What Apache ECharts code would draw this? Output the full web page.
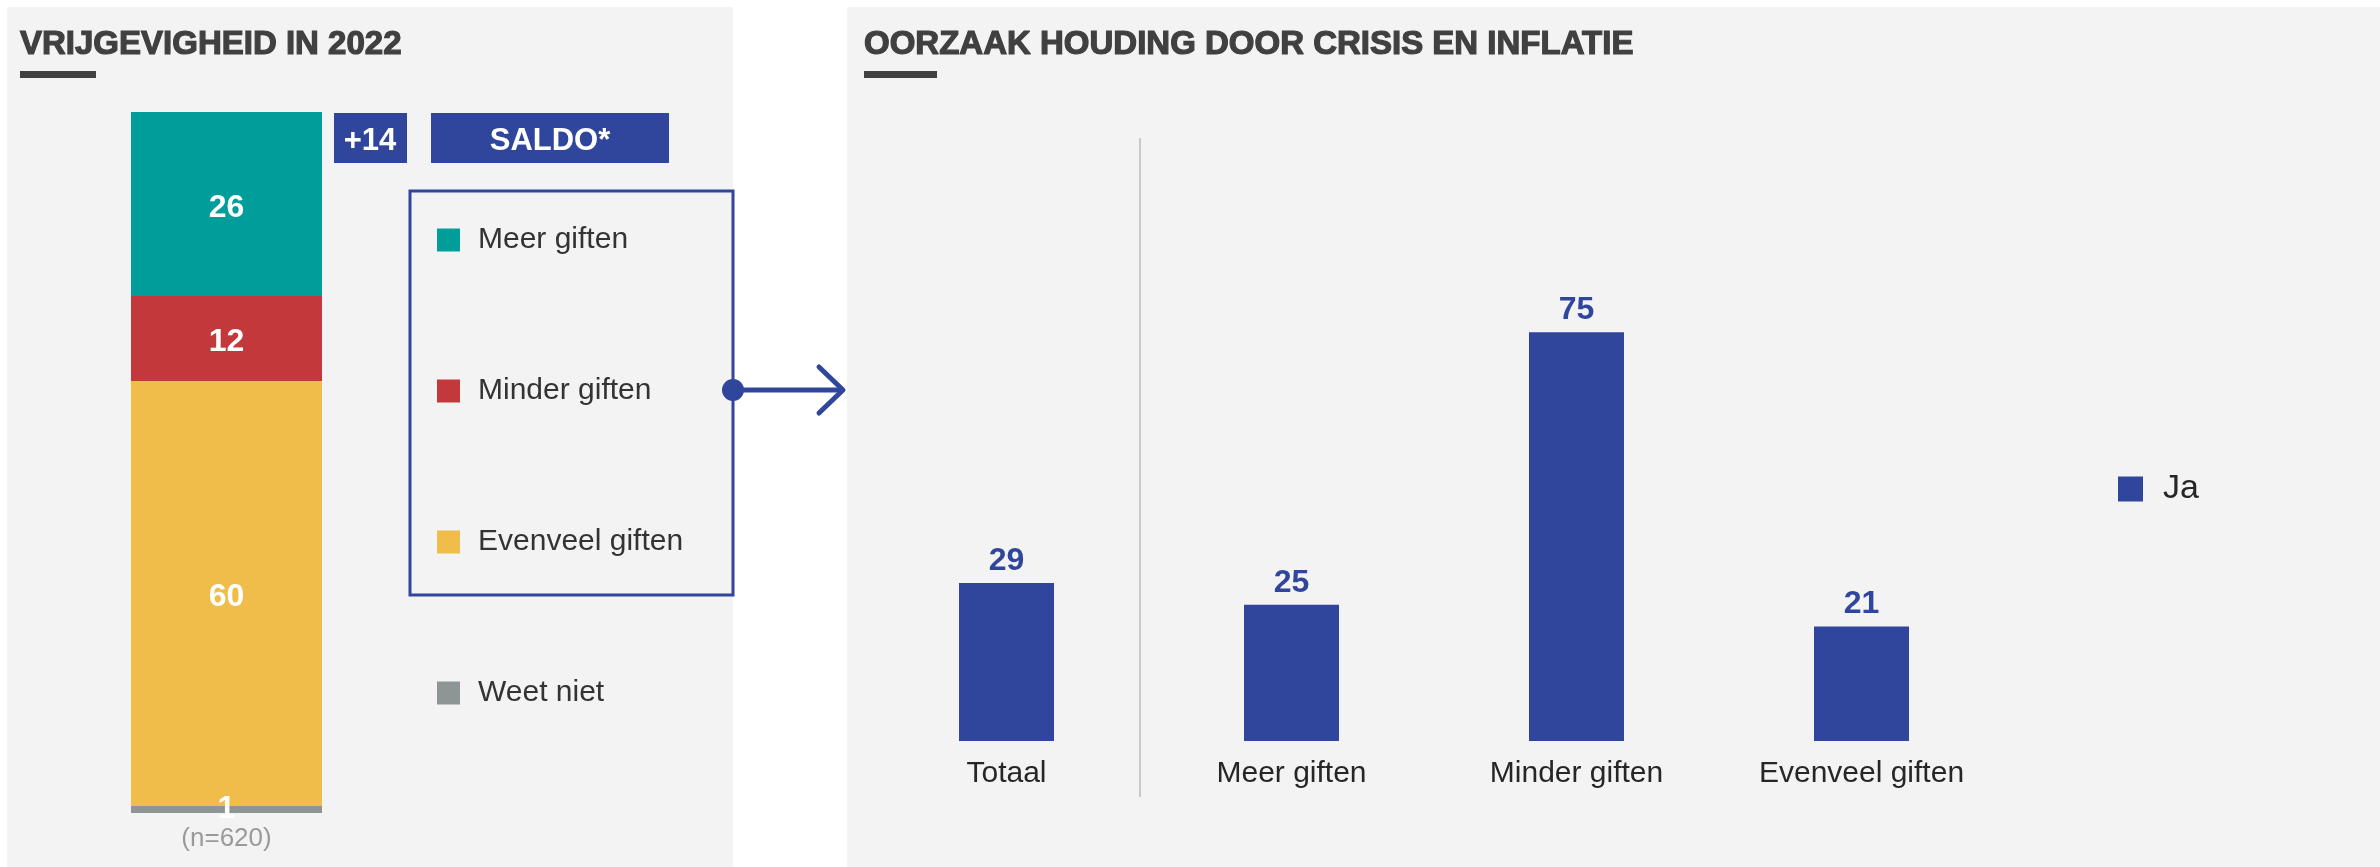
<!DOCTYPE html>
<html>
<head>
<meta charset="utf-8">
<title>Vrijgevigheid in 2022</title>
<script src="https://cdn.jsdelivr.net/npm/echarts@6/dist/echarts.min.js"></script>
<style>
  html, body { margin: 0; padding: 0; background: #fff; }
  #chart { width: 2380px; height: 867px; }
</style>
</head>
<body>
<div id="chart"></div>
<script>
// linker grafiek: verdeling vrijgevigheid (n=620)
const leftCategories = ['(n=620)'];
const meerGiften = [26];
const minderGiften = [12];
const evenveelGiften = [60];
const weetNiet = [1];
const saldo = 14;

// rechter grafiek: oorzaak door crisis en inflatie
const rightCategories = ['Totaal', 'Meer giften', 'Minder giften', 'Evenveel giften'];
const jaValues = [29, 25, 75, 21];

const FONT = '"Liberation Sans", Arial, sans-serif';
const BLUE = '#30469c';
const PANEL = '#f3f3f3';
const TITLE = '#404040';

const chart = echarts.init(document.getElementById('chart'));

// label in de gestapelde balk
const segLabel = {
  show: true,
  position: 'inside',
  offset: [0, 4],
  color: '#fff',
  fontFamily: FONT,
  fontWeight: 'bold',
  fontSize: 32
};

// titels zijn zwaarder dan gewoon bold, dus een randje erom
const titleStyle = {
  color: TITLE,
  fontFamily: FONT,
  fontWeight: 'bold',
  fontSize: 33,
  textBorderColor: TITLE,
  textBorderWidth: 1.2
};

const option = {
  backgroundColor: '#fff',
  animation: false,
  title: [
    { text: 'VRIJGEVIGHEID IN 2022', left: 20, top: 28, padding: 0, textStyle: titleStyle },
    { text: 'OORZAAK HOUDING DOOR CRISIS EN INFLATIE', left: 864, top: 28, padding: 0, textStyle: titleStyle }
  ],
  legend: [
    {
      orient: 'vertical',
      left: 437,
      top: 225,
      padding: 0,
      icon: 'rect',
      itemWidth: 23,
      itemHeight: 23,
      itemGap: 121,
      data: ['Meer giften', 'Minder giften', 'Evenveel giften', 'Weet niet'],
      textStyle: {
        color: '#333',
        fontFamily: FONT,
        fontSize: 30,
        lineHeight: 30,
        padding: [0, 0, 0, 13]
      }
    },
    {
      left: 2118,
      top: 472,
      padding: 0,
      icon: 'rect',
      itemWidth: 25,
      itemHeight: 25,
      data: ['Ja'],
      textStyle: {
        color: '#262626',
        fontFamily: FONT,
        fontSize: 34,
        padding: [0, 0, 0, 15]
      }
    }
  ],
  grid: [
    { left: 131, width: 191, top: 112, bottom: 54 },
    { left: 864, right: 376, top: 196, bottom: 126 }
  ],
  xAxis: [
    {
      type: 'category',
      gridIndex: 0,
      data: leftCategories,
      axisLine: { show: false },
      axisTick: { show: false },
      axisLabel: { color: '#9a9a9a', fontFamily: FONT, fontSize: 26, margin: 13 }
    },
    {
      type: 'category',
      gridIndex: 1,
      data: rightCategories,
      axisLine: { show: false },
      axisTick: { show: false },
      axisLabel: { color: '#262626', fontFamily: FONT, fontSize: 30, margin: 18 }
    }
  ],
  yAxis: [
    { type: 'value', gridIndex: 0, min: 0, max: 99, show: false },
    { type: 'value', gridIndex: 1, min: 0, max: 100, show: false }
  ],
  series: [
    // onderaan beginnen: weet niet, evenveel, minder, meer
    {
      name: 'Weet niet',
      type: 'bar',
      stack: 'totaal',
      barWidth: 191,
      itemStyle: { color: '#8e9595' },
      label: Object.assign({}, segLabel, { offset: [0, 0] }),
      data: weetNiet
    },
    {
      name: 'Evenveel giften',
      type: 'bar',
      stack: 'totaal',
      itemStyle: { color: '#f1bd4a' },
      label: segLabel,
      data: evenveelGiften
    },
    {
      name: 'Minder giften',
      type: 'bar',
      stack: 'totaal',
      itemStyle: { color: '#c3393b' },
      label: segLabel,
      data: minderGiften
    },
    {
      name: 'Meer giften',
      type: 'bar',
      stack: 'totaal',
      itemStyle: { color: '#009d9a' },
      label: segLabel,
      data: meerGiften
    },
    {
      name: 'Ja',
      type: 'bar',
      xAxisIndex: 1,
      yAxisIndex: 1,
      barWidth: 95,
      itemStyle: { color: BLUE },
      label: {
        show: true,
        position: 'top',
        distance: 6,
        color: BLUE,
        fontFamily: FONT,
        fontWeight: 'bold',
        fontSize: 32
      },
      data: jaValues
    }
  ],
  graphic: [
    // panelen
    { type: 'rect', z: -10, shape: { x: 7, y: 7, width: 726, height: 860 }, style: { fill: PANEL } },
    { type: 'rect', z: -10, shape: { x: 847, y: 7, width: 1533, height: 860 }, style: { fill: PANEL } },
    // streepjes onder de titels
    { type: 'rect', shape: { x: 20, y: 71, width: 76, height: 7 }, style: { fill: TITLE } },
    { type: 'rect', shape: { x: 864, y: 71, width: 73, height: 7 }, style: { fill: TITLE } },
    // saldo
    {
      type: 'rect',
      shape: { x: 334, y: 113, width: 73, height: 50 },
      style: { fill: BLUE }
    },
    {
      type: 'text',
      x: 370, y: 141,
      style: {
        text: '+' + saldo, fill: '#fff', font: 'bold 31px ' + FONT,
        align: 'center', verticalAlign: 'middle'
      }
    },
    {
      type: 'rect',
      shape: { x: 431, y: 113, width: 238, height: 50 },
      style: { fill: BLUE }
    },
    {
      type: 'text',
      x: 550, y: 141,
      style: {
        text: 'SALDO*', fill: '#fff', font: 'bold 31px ' + FONT,
        align: 'center', verticalAlign: 'middle'
      }
    },
    // kader rond legenda + pijl
    {
      type: 'rect',
      shape: { x: 410, y: 191, width: 323, height: 404 },
      style: { fill: 'none', stroke: BLUE, lineWidth: 3 }
    },
    {
      type: 'line',
      shape: { x1: 733, y1: 390, x2: 842, y2: 390 },
      style: { stroke: BLUE, lineWidth: 5 }
    },
    {
      type: 'polyline',
      shape: { points: [[819, 367], [843, 390], [819, 413]] },
      style: { stroke: BLUE, lineWidth: 5, lineCap: 'round', lineJoin: 'round', fill: 'none' }
    },
    {
      type: 'circle',
      shape: { cx: 733, cy: 390, r: 11 },
      style: { fill: BLUE }
    },
    // scheidingslijn tussen totaal en groepen
    {
      type: 'line',
      shape: { x1: 1140, y1: 138, x2: 1140, y2: 797 },
      style: { stroke: '#c8c8c8', lineWidth: 2 }
    }
  ]
};

chart.setOption(option);
</script>
</body>
</html>
